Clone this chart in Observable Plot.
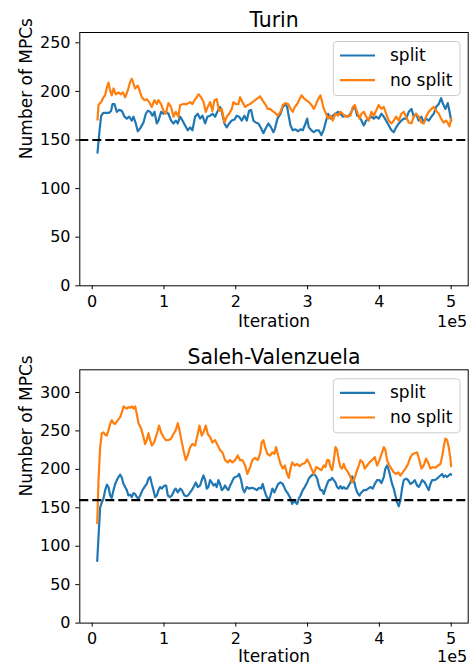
<!DOCTYPE html>
<html><head><meta charset="utf-8">
<script src="https://cdn.jsdelivr.net/npm/d3@7"></script>
<script src="https://cdn.jsdelivr.net/npm/@observablehq/plot@0.6"></script>
<style>body{margin:0;background:#fff}#chart svg{display:block}</style>
</head><body><div id="chart"></div>
<script>
const seriesNames = ["split", "no split"];
const seriesColors = ["#1f77b4", "#ff7f0e"];
const panelTitles = ["Turin", "Saleh-Valenzuela"];
const xTicks = [0, 100000, 200000, 300000, 400000, 500000];
const turinYTicks = [0, 50, 100, 150, 200, 250];
const svYTicks = [0, 50, 100, 150, 200, 250, 300];
const thresholds = [150, 160];

const turinSplitIter = [7400,10000,12500,15700,20400,23600,26400,28300,31000,34300,37500,41300,45000,48200,51500,55200,57500,60700,63500,66800,71400,74700,77400,80700,83900,86700,90000,92300,96000,99300,102500,106200,109900,113200,116400,119200,122500,125700,129400,133100,136400,139600,143300,147000,150300,153500,157300,160500,164200,167500,171200,174900,178100,180500,184200,187400,190700,194400,198100,201300,204600,208300,212000,215300,218500,221300,224500,227800,231500,235200,238500,241700,245400,249100,252400,254700,258000,262300,265500,269200,271500,273900,276200,279400,283100,286900,290100,293300,297100,299400,301700,305400,308700,311900,315600,319300,322600,325800,328600,331900,335100,338800,342500,345800,349000,352700,356500,359700,363000,365700,369000,372200,375000,378300,381500,385200,388900,392200,395400,399100,402800,406100,409400,413100,416800,420000,423300,427000,430700,433900,437200,440900,444600,447900,451100,454800,458500,461800,465000,468700,472500,475700,479000,482700,485900,488700,492000,495200,497500,500000];
const turinSplitVal = [137,158,175,178,178,178,180,187,187,179,181,180,174,172,174,170,174,167,159,162,168,177,180,179,175,179,167,170,179,177,179,177,170,167,170,167,174,170,165,160,163,160,174,177,172,175,167,174,175,177,174,180,184,179,167,163,167,170,171,175,174,170,175,170,180,181,170,168,167,162,157,162,167,163,158,162,172,177,184,187,184,174,165,160,161,159,161,160,167,172,163,160,158,160,160,155,161,170,177,172,175,177,179,177,174,175,174,177,182,185,175,174,170,165,170,172,174,172,174,172,177,174,170,165,160,158,163,167,170,172,172,179,182,174,177,170,174,168,172,170,174,177,184,187,193,187,182,188,180,170];

const turinNoIter = [7400,8800,12500,15700,18000,20400,22700,25000,27300,29700,32900,36600,39900,42600,45900,49600,52900,55200,57500,59800,63500,66800,69100,72800,76000,79300,83000,86700,90000,92300,96000,99300,102500,106200,109900,113200,116400,120100,122500,127100,131700,136400,139600,142400,145700,148000,151700,155000,158200,161000,164200,167500,170200,173500,176700,180500,184200,187400,190700,194400,196700,200000,203700,206000,209200,213000,216600,219900,223100,226900,230600,233800,237100,240800,244500,247700,251000,254700,258400,262300,265500,269200,272900,276200,279400,282200,285500,288700,291500,294700,298000,301700,305400,308700,311900,314700,317900,320300,322600,325800,328600,331900,335100,338800,342500,345800,349000,352700,356500,359700,363000,365700,369000,372200,375000,378300,381500,385200,388900,392200,395400,399100,402800,406100,409400,413100,416800,420000,423300,427000,430700,433900,437200,440900,444600,447900,451100,454800,458500,461800,465000,468700,472500,475700,479000,482700,485900,489600,492900,495700,497500,500000];
const turinNoVal = [171,186,189,194,196,204,209,201,196,203,197,199,197,199,194,201,210,213,208,203,206,199,194,191,192,189,184,191,187,191,187,180,177,188,184,174,179,174,186,187,187,189,187,191,194,197,194,189,179,184,189,180,191,192,180,182,168,174,177,182,189,187,187,194,189,184,186,187,189,191,193,195,191,187,182,182,180,178,175,179,186,188,187,182,179,184,187,192,196,193,191,189,186,182,187,192,196,189,182,177,172,175,170,177,175,179,177,174,175,175,184,186,179,172,177,179,174,170,179,175,180,186,182,184,177,170,167,170,174,170,177,179,174,168,167,174,177,174,168,167,174,179,182,184,180,177,172,168,170,167,164,172];

const svSplitIter = [7000,11000,13400,15700,18100,20400,22700,25000,27300,29700,32000,34300,36600,39000,41300,43600,45900,48200,50500,52900,55200,57500,59800,62100,64500,66800,70000,72800,76000,78400,80700,83000,85300,87700,90000,92300,94600,97000,100600,103000,105300,108500,110900,114600,116400,119200,122500,124800,128500,131700,135000,138700,142400,144300,147000,150300,152600,155000,157300,159600,161900,164200,166500,168900,171200,173500,175800,178100,180500,182800,185100,187400,189700,192100,194400,196700,199000,202300,204600,207400,209700,212000,215300,218500,222200,226000,229200,232400,235200,237500,239800,242200,245400,247700,251000,253800,256100,259000,262300,265500,269200,272900,276200,278500,280800,283100,285500,287800,290100,293300,296100,299400,301700,305400,308700,311000,313300,315600,317900,320300,322600,324900,327200,329500,331900,334200,336500,338800,341100,343500,345800,348100,350400,352700,355100,357400,359700,362000,364300,366700,369000,372200,375000,378300,381500,384300,387500,390800,393600,396800,400100,402900,406100,408400,410700,413100,415400,417700,420000,422300,424700,427000,429300,431600,433900,437200,440000,443200,446500,449300,452500,454800,457100,459500,463200,466400,468700,471100,473400,477100,480300,482700,485000,487300,489600,491900,494300,496600,498900,500000];
const svSplitVal = [81,150,157,162,173,180,177,166,163,173,181,186,190,193,189,181,177,173,166,167,164,169,168,164,162,166,173,177,181,188,190,181,173,164,166,173,177,175,179,179,166,164,166,173,175,170,175,173,166,165,168,173,179,183,177,179,186,192,186,175,177,186,183,179,181,177,186,181,173,175,179,175,173,179,183,188,190,191,194,186,175,170,177,175,176,175,173,176,175,181,173,166,160,164,175,170,175,181,183,181,173,168,162,155,159,157,155,162,166,173,177,183,188,192,194,192,188,179,173,173,168,175,181,186,186,189,186,183,177,175,178,175,177,175,175,179,183,191,186,177,170,166,170,173,173,175,177,175,181,186,186,182,190,201,205,199,190,181,175,166,157,152,160,175,186,188,186,181,183,186,179,177,181,186,183,177,173,181,186,186,188,190,192,194,190,192,190,192,194,193];

const svNoIter = [7000,8800,11100,13400,15700,18100,20400,22700,25000,27300,29700,32000,35700,39000,41300,43600,45900,48200,50500,52900,55200,57500,59800,62100,64500,68200,71400,73700,76000,78400,80700,83000,86300,90000,93200,96000,99300,102500,106200,109900,113200,116400,119200,121100,123800,127100,130300,133100,136400,139600,143300,147000,149400,152600,155000,158200,161000,164200,167500,171200,174900,178100,181400,185100,188800,192000,195300,199000,202700,206000,209200,213000,216200,219900,223100,226900,230600,233800,236100,238500,240800,244000,247700,251000,253800,256100,259000,262300,265500,268300,271500,273900,276200,278500,282200,285500,288700,292400,296100,299400,301700,305400,308700,311900,315600,319300,322600,324900,327200,329500,331900,334200,336500,338800,341100,343500,345800,348100,350400,352700,356500,359700,362000,364300,366700,369000,371300,373600,376900,379700,382900,386100,389900,393600,396800,400100,403800,406100,408400,410700,414000,416800,420000,423300,426100,429300,432500,436300,440000,443200,446500,449300,452500,455700,458500,461800,465000,467800,471100,474300,478000,481700,485000,487300,489600,491900,494300,496600,498900,500000];
const svNoVal = [130,186,229,247,248,245,244,251,259,264,260,259,264,268,274,282,280,279,281,280,282,279,282,272,260,253,242,233,238,247,238,231,235,246,257,248,242,238,238,240,246,251,260,253,240,225,212,218,229,233,231,246,257,244,248,257,246,242,235,238,231,225,222,212,209,212,209,212,218,212,212,205,194,203,212,215,212,220,235,238,229,220,218,222,220,229,218,207,201,205,194,189,201,209,205,207,204,207,208,213,209,201,194,203,201,199,205,203,212,212,203,199,212,229,225,212,203,201,207,201,196,190,183,186,192,199,205,212,209,201,205,209,212,216,205,212,222,229,225,212,205,201,196,194,196,192,196,201,207,216,220,221,222,212,201,205,214,209,201,203,202,205,207,216,229,240,238,229,214,204];

function toRows(iter, val, series) {
  return iter.map((it, i) => ({it, v: val[i], series}));
}

function panel(cfg) {
  const rows = [
    ...toRows(cfg.splitIter, cfg.splitVal, seriesNames[0]),
    ...toRows(cfg.noIter, cfg.noVal, seriesNames[1])
  ];
  const svg = Plot.plot({
    width: 473,
    height: 333,
    marginLeft: 79.3,
    marginRight: 5.3,
    marginTop: cfg.marginTop,
    marginBottom: cfg.marginBottom,
    style: {fontFamily: "DejaVu Sans", fontSize: "16px", color: "black", background: "white"},
    x: {domain: [-17270, 523700], label: null},
    y: {domain: [0, cfg.yMax], label: null},
    color: {domain: seriesNames, range: seriesColors},
    marks: [
      Plot.line(rows, {x: "it", y: "v", stroke: "series", z: "series", strokeWidth: 2.2}),
      Plot.ruleY([cfg.threshold], {stroke: "black", strokeWidth: 2.2, strokeDasharray: "9,4"}),
      Plot.frame({stroke: "black", strokeWidth: 1}),
      Plot.axisX({ticks: xTicks, tickFormat: d => d / 1e5, tickSize: 4, tickPadding: 5.7, label: null}),
      Plot.axisY({ticks: cfg.yTicks, tickSize: 4, tickPadding: 5.3, label: null}),
      Plot.text([cfg.title], {text: d => d, frameAnchor: "top", dy: -6, lineAnchor: "bottom", fontSize: 20.4}),
      Plot.text(["Iteration"], {text: d => d, frameAnchor: "bottom", dy: cfg.labelDy, lineAnchor: "bottom", fontSize: 17}),
      Plot.text(["1e5"], {text: d => d, frameAnchor: "bottom-right", textAnchor: "end", dx: -1, dy: cfg.labelDy - 0.3, lineAnchor: "bottom", fontSize: 16}),
      Plot.text(["Number of MPCs"], {text: d => d, frameAnchor: "left", rotate: -90, dx: -47.8, lineAnchor: "bottom", fontSize: 17})
    ]
  });
  // legend
  const right = 473 - 5.3;
  const top = cfg.marginTop;
  const bx = right - 7.7 - 126.7, by = top + 9.5;
  const g = d3.select(svg).append("g").attr("font-family", "DejaVu Sans").attr("font-size", 17).attr("text-anchor", "start");
  g.append("rect").attr("x", bx).attr("y", by).attr("width", 126.7).attr("height", 54)
    .attr("rx", 3.5).attr("fill", "white").attr("fill-opacity", 0.8).attr("stroke", "#cccccc").attr("stroke-width", 1);
  seriesNames.forEach((name, i) => {
    const cy = by + 14 + i * 24.7;
    g.append("line").attr("x1", bx + 6.7).attr("x2", bx + 41.7).attr("y1", cy).attr("y2", cy)
      .attr("stroke", seriesColors[i]).attr("stroke-width", 2.2);
    g.append("text").attr("x", bx + 56.7).attr("y", cy).attr("dy", "0.33em").attr("fill", "black")
      .attr("text-anchor", "start").text(name);
  });
  return svg;
}

const chart = document.getElementById("chart");
chart.appendChild(panel({title: panelTitles[0], splitIter: turinSplitIter, splitVal: turinSplitVal, noIter: turinNoIter, noVal: turinNoVal, threshold: thresholds[0], yMax: 260.6, yTicks: turinYTicks, marginTop: 32, marginBottom: 47.7, labelDy: 41.3}));
chart.appendChild(panel({title: panelTitles[1], splitIter: svSplitIter, splitVal: svSplitVal, noIter: svNoIter, noVal: svNoVal, threshold: thresholds[1], yMax: 329.5, yTicks: svYTicks, marginTop: 36.3, marginBottom: 43.4, labelDy: 39.3}));
</script></body></html>
